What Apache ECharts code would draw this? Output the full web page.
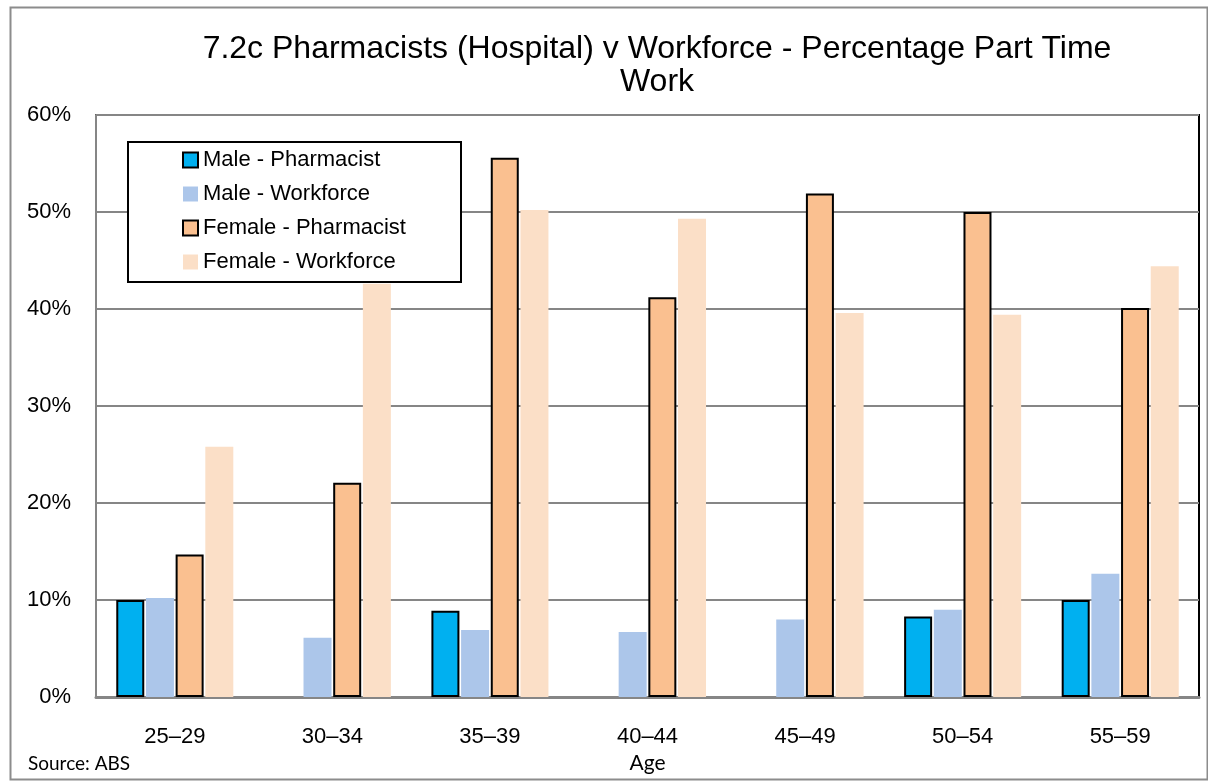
<!DOCTYPE html>
<html>
<head>
<meta charset="utf-8">
<style>
  html, body { margin: 0; padding: 0; background: #fff; }
  #chart { width: 1208px; height: 782px; }
</style>
<script src="https://cdn.jsdelivr.net/npm/echarts@6/dist/echarts.min.js"></script>
</head>
<body>
<div id="chart"></div>
<script>
const AGE_GROUPS = ["25–29", "30–34", "35–39", "40–44", "45–49", "50–54", "55–59"];
// null where the reference draws no bar
const MALE_PHARMACIST = [10.0, null, 8.9, null, null, 8.3, 10.0];
const MALE_WORKFORCE = [10.2, 6.1, 6.9, 6.7, 8.0, 9.0, 12.7];
const FEMALE_PHARMACIST = [14.7, 22.1, 55.6, 41.2, 51.9, 50.0, 40.1];
const FEMALE_WORKFORCE = [25.8, 42.6, 50.2, 49.3, 39.6, 39.4, 44.4];

const AXIS_FONT = "'Liberation Sans', Arial, sans-serif";
const NOTE_FONT = "Lato, 'Open Sans', sans-serif";

function barSeries(name, values, color, outlined) {
  return {
    name,
    type: "bar",
    data: values,
    barWidth: 28,
    barGap: "6%",
    itemStyle: {
      color,
      borderColor: outlined ? "#000" : color,
      borderWidth: outlined ? 2 : 0
    },
    emphasis: { disabled: true }
  };
}

const chart = echarts.init(document.getElementById("chart"));

chart.setOption({
  animation: false,
  title: {
    text: "7.2c Pharmacists (Hospital) v Workforce - Percentage Part Time\nWork",
    left: 652,
    top: 28,
    textAlign: "center",
    textStyle: {
      fontFamily: AXIS_FONT,
      fontSize: 32,
      fontWeight: "normal",
      color: "#000",
      lineHeight: 33
    }
  },
  legend: {
    orient: "vertical",
    left: 177,
    top: 144,
    z: 5,
    icon: "rect",
    itemWidth: 15,
    itemHeight: 15,
    itemGap: 12,
    selectedMode: false,
    textStyle: {
      fontFamily: AXIS_FONT,
      fontSize: 22,
      color: "#000"
    },
    data: ["Male - Pharmacist", "Male - Workforce", "Female - Pharmacist", "Female - Workforce"]
  },
  grid: {
    left: 96,
    right: 9,
    top: 115,
    bottom: 85,
    show: true,
    borderColor: "#000",
    borderWidth: 2
  },
  xAxis: {
    type: "category",
    data: AGE_GROUPS,
    name: "Age",
    nameLocation: "middle",
    nameGap: 54,
    nameTextStyle: { fontFamily: NOTE_FONT, fontSize: 21, color: "#000" },
    axisLine: { lineStyle: { color: "#868686", width: 3 } },
    axisTick: { show: false },
    axisLabel: {
      fontFamily: AXIS_FONT,
      fontSize: 22,
      color: "#000",
      margin: 29
    }
  },
  yAxis: {
    type: "value",
    min: 0,
    max: 60,
    interval: 10,
    axisLine: { show: true, lineStyle: { color: "#868686", width: 2 } },
    axisTick: { show: false },
    axisLabel: {
      formatter: "{value}%",
      fontFamily: AXIS_FONT,
      fontSize: 22,
      color: "#000",
      margin: 25
    },
    splitLine: { lineStyle: { color: "#868686", width: 2 } }
  },
  graphic: [
    {
      type: "rect",
      left: 8,
      top: 5,
      shape: { width: 1197, height: 772 },
      style: { fill: null, stroke: "#8c8c8c", lineWidth: 2 },
      silent: true
    },
    {
      type: "rect",
      left: 127,
      top: 141,
      z: 3,
      shape: { width: 333, height: 140 },
      style: { fill: "#fff", stroke: "#000", lineWidth: 2 },
      silent: true
    },
    {
      type: "text",
      left: 28,
      top: 754,
      style: {
        text: "Source: ABS",
        font: "19px " + NOTE_FONT,
        fill: "#000"
      }
    }
  ],
  series: [
    barSeries("Male - Pharmacist", MALE_PHARMACIST, "#00B0F0", true),
    barSeries("Male - Workforce", MALE_WORKFORCE, "#ACC6EA", false),
    barSeries("Female - Pharmacist", FEMALE_PHARMACIST, "#FAC090", true),
    barSeries("Female - Workforce", FEMALE_WORKFORCE, "#FBDFC7", false)
  ]
});
</script>
</body>
</html>
